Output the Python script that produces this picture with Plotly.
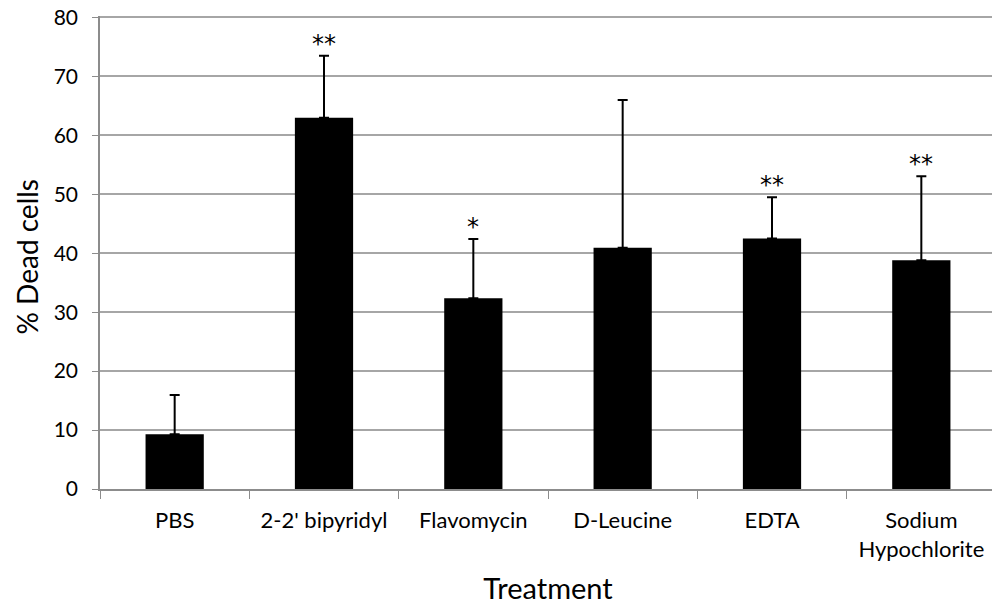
import plotly.graph_objects as go

categories = ["PBS", "2-2' bipyridyl", "Flavomycin", "D-Leucine", "EDTA", "Sodium<br>Hypochlorite"]
values = [9.3, 63.0, 32.35, 40.95, 42.5, 38.8]
err_top = [15.95, 73.5, 42.4, 66.0, 49.5, 53.05]
errors = [t - v for t, v in zip(err_top, values)]
stars = ["", "**", "*", "", "**", "**"]
y_ticks = [0, 10, 20, 30, 40, 50, 60, 70, 80]

font_family = "Lato, Open Sans, sans-serif"

fig = go.Figure()
fig.add_trace(go.Bar(
    x=categories, y=values,
    marker=dict(color="black", line=dict(width=0)),
    error_y=dict(type="data", symmetric=False, array=errors, arrayminus=[0]*len(values),
                 color="black", thickness=2, width=5),
    width=0.39,
))

for c, t, s in zip(categories, err_top, stars):
    if s:
        fig.add_annotation(x=c, y=t, text=s, showarrow=False, yanchor="middle", yshift=12,
                           font=dict(size=24, color="black", family="DejaVu Sans"))

# y-axis title
fig.add_annotation(xref="paper", yref="paper", x=0, y=0.5, xanchor="center", yanchor="middle",
                   xshift=-74, yshift=-4, textangle=-90, text="% Dead cells", showarrow=False,
                   font=dict(size=28, color="black", family=font_family))

fig.update_layout(
    width=992, height=597,
    margin=dict(l=92, r=4, t=8, b=116),
    plot_bgcolor="white", paper_bgcolor="white",
    showlegend=False,
    font=dict(family=font_family, color="black"),
)
fig.update_yaxes(
    range=[0, 80.25], tickvals=y_ticks,
    showgrid=True, gridcolor="#a6a6a6", gridwidth=1.5,
    showline=True, linecolor="#8c8c8c", linewidth=1.5,
    ticks="outside", ticklen=6, tickcolor="#8c8c8c", tickfont=dict(size=21),
    ticklabelstandoff=10, ticklabeloverflow="allow",
    zeroline=False, automargin=False,
)
fig.update_xaxes(
    showline=True, linecolor="#8c8c8c", linewidth=1.5,
    ticks="outside", tickson="boundaries", ticklen=8, tickcolor="#8c8c8c",
    tickfont=dict(size=22), ticklabelstandoff=11,
    title=dict(text="Treatment", font=dict(size=29), standoff=28),
    automargin=False,
)

fig.write_html("out.html")
